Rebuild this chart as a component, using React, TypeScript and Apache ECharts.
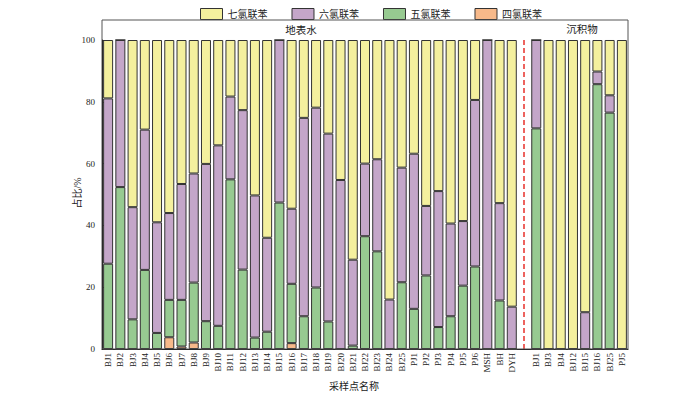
import React, { useEffect, useRef } from "react";
import * as echarts from "echarts";

const categories = [
  "BJ1", "BJ2", "BJ3", "BJ4", "BJ5", "BJ6", "BJ7", "BJ8", "BJ9", "BJ10",
  "BJ11", "BJ12", "BJ13", "BJ14", "BJ15", "BJ16", "BJ17", "BJ18", "BJ19", "BJ20",
  "BJ21", "BJ22", "BJ23", "BJ24", "BJ25", "PJ1", "PJ2", "PJ3", "PJ4", "PJ5", "PJ6",
  "MSH", "BH", "DYH",
  " ",
  "BJ1 ", "BJ3 ", "BJ4 ", "BJ12 ", "BJ15 ", "BJ16 ", "BJ25 ", "PJ5 ",
];

const tetraCB = [
  0, 0, 0, 0, 0, 3.8, 0.8, 2.1, 0, 0,
  0, 0, 0, 0, 0, 1.9, 0, 0, 0, 0,
  0, 0, 0, 0, 0, 0, 0, 0, 0, 0, 0,
  0, 0, 0,
  null,
  0, 0, 0, 0, 0, 0, 0, 0,
];

const pentaCB = [
  27.6, 52.4, 9.6, 25.6, 5.2, 12.1, 15.1, 19.4, 9.0, 7.5,
  54.9, 25.7, 3.7, 5.6, 47.4, 19.2, 10.6, 19.9, 8.9, 0,
  1.1, 36.5, 31.6, 0, 21.6, 13.0, 23.8, 7.1, 10.6, 20.5, 26.7,
  0, 15.7, 0,
  null,
  71.4, 0, 0, 0, 0, 85.7, 76.5, 0,
];

const hexaCB = [
  53.5, 47.6, 36.3, 45.4, 35.8, 28.1, 37.5, 35.3, 50.9, 58.4,
  26.8, 51.6, 46.0, 30.4, 52.6, 24.3, 64.2, 58.2, 60.8, 54.7,
  27.8, 23.5, 29.8, 16.0, 37.1, 50.2, 22.5, 44.0, 30.0, 20.9, 53.9,
  100, 31.5, 13.7,
  null,
  28.6, 0, 0, 0, 11.9, 4.1, 5.6, 0,
];

const heptaCB = [
  18.9, 0, 54.1, 29.0, 59.0, 56.0, 46.6, 43.2, 40.1, 34.1,
  18.3, 22.7, 50.3, 64.0, 0, 54.6, 25.2, 21.9, 30.3, 45.3,
  71.1, 40.0, 38.6, 84.0, 41.3, 36.8, 53.7, 48.9, 59.4, 58.6, 19.4,
  0, 52.8, 86.3,
  null,
  0, 100, 100, 100, 88.1, 10.2, 17.9, 100,
];

const yTicks = [0, 20, 40, 60, 80, 100];
const gapIndex = 34;

const FONT = "'Liberation Serif', 'Noto Sans CJK SC', serif";

export default function App() {
  const ref = useRef<HTMLDivElement>(null);
  useEffect(() => {
    document.body.style.margin = "0";
    if (!ref.current) return;
    const chart = echarts.init(ref.current, null, { renderer: "svg" });
    const border = { borderColor: "#333", borderWidth: 1 };
    const mk = (name: string, data: (number | null)[], color: string, extra: any = {}) => ({
      name,
      type: "bar",
      stack: "total",
      data,
      barWidth: 10,
      itemStyle: { color, ...border },
      emphasis: { disabled: true },
      ...extra,
    });
    chart.setOption({
      animation: false,
      textStyle: { fontFamily: FONT },
      legend: {
        data: ["七氯联苯", "六氯联苯", "五氯联苯", "四氯联苯"],
        icon: "rect",
        left: 195,
        top: 3,
        itemWidth: 22,
        itemHeight: 11,
        itemGap: 24,
        itemStyle: { borderColor: "#333", borderWidth: 1 },
        textStyle: { fontSize: 10, color: "#222", fontFamily: FONT },
      },
      grid: { left: 102, right: 72, top: 40, bottom: 46 },
      xAxis: {
        type: "category",
        data: categories,
        axisLine: { lineStyle: { color: "#000" } },
        axisTick: { show: false },
        axisLabel: {
          interval: 0,
          rotate: 90,
          fontSize: 9,
          margin: 4,
          color: "#222",
          fontFamily: FONT,
          formatter: (v: string) => v.trim(),
        },
      },
      yAxis: {
        type: "value",
        min: yTicks[0],
        max: yTicks[yTicks.length - 1],
        interval: 20,
        axisLine: { show: true, lineStyle: { color: "#000" } },
        axisTick: { show: true, inside: true, length: 4, lineStyle: { color: "#000" } },
        splitLine: { show: false },
        axisLabel: { fontSize: 9, color: "#222", margin: 7, fontFamily: FONT },
      },
      series: [
        mk("四氯联苯", tetraCB, "#F7B98A", {
          markLine: {
            silent: true,
            symbol: "none",
            label: { show: false },
            lineStyle: { color: "#E8302A", type: [5, 3], width: 1.5 },
            data: [{ xAxis: gapIndex }],
          },
        }),
        mk("五氯联苯", pentaCB, "#97CA91"),
        mk("六氯联苯", hexaCB, "#C4A6C9"),
        mk("七氯联苯", heptaCB, "#F4F09E"),
      ],
      graphic: [
        {
          type: "rect",
          z: 100,
          shape: { x: 102, y: 20, width: 526, height: 329 },
          style: { fill: "none", stroke: "#555", lineWidth: 1 },
        },
        {
          type: "text",
          x: 301,
          y: 30,
          style: { text: "地表水", fill: "#222", font: `10.5px ${FONT}`, textAlign: "center", textVerticalAlign: "middle" },
        },
        {
          type: "text",
          x: 582,
          y: 29,
          style: { text: "沉积物", fill: "#222", font: `10.5px ${FONT}`, textAlign: "center", textVerticalAlign: "middle" },
        },
        {
          type: "text",
          x: 77,
          y: 193,
          rotation: Math.PI / 2,
          style: { text: "占比/%", fill: "#222", font: `10px ${FONT}`, textAlign: "center", textVerticalAlign: "middle" },
        },
        {
          type: "text",
          x: 354,
          y: 386,
          style: { text: "采样点名称", fill: "#222", font: `10px ${FONT}`, textAlign: "center", textVerticalAlign: "middle" },
        },
      ],
    });
    return () => chart.dispose();
  }, []);
  return <div ref={ref} style={{ width: 700, height: 395 }} />;
}
